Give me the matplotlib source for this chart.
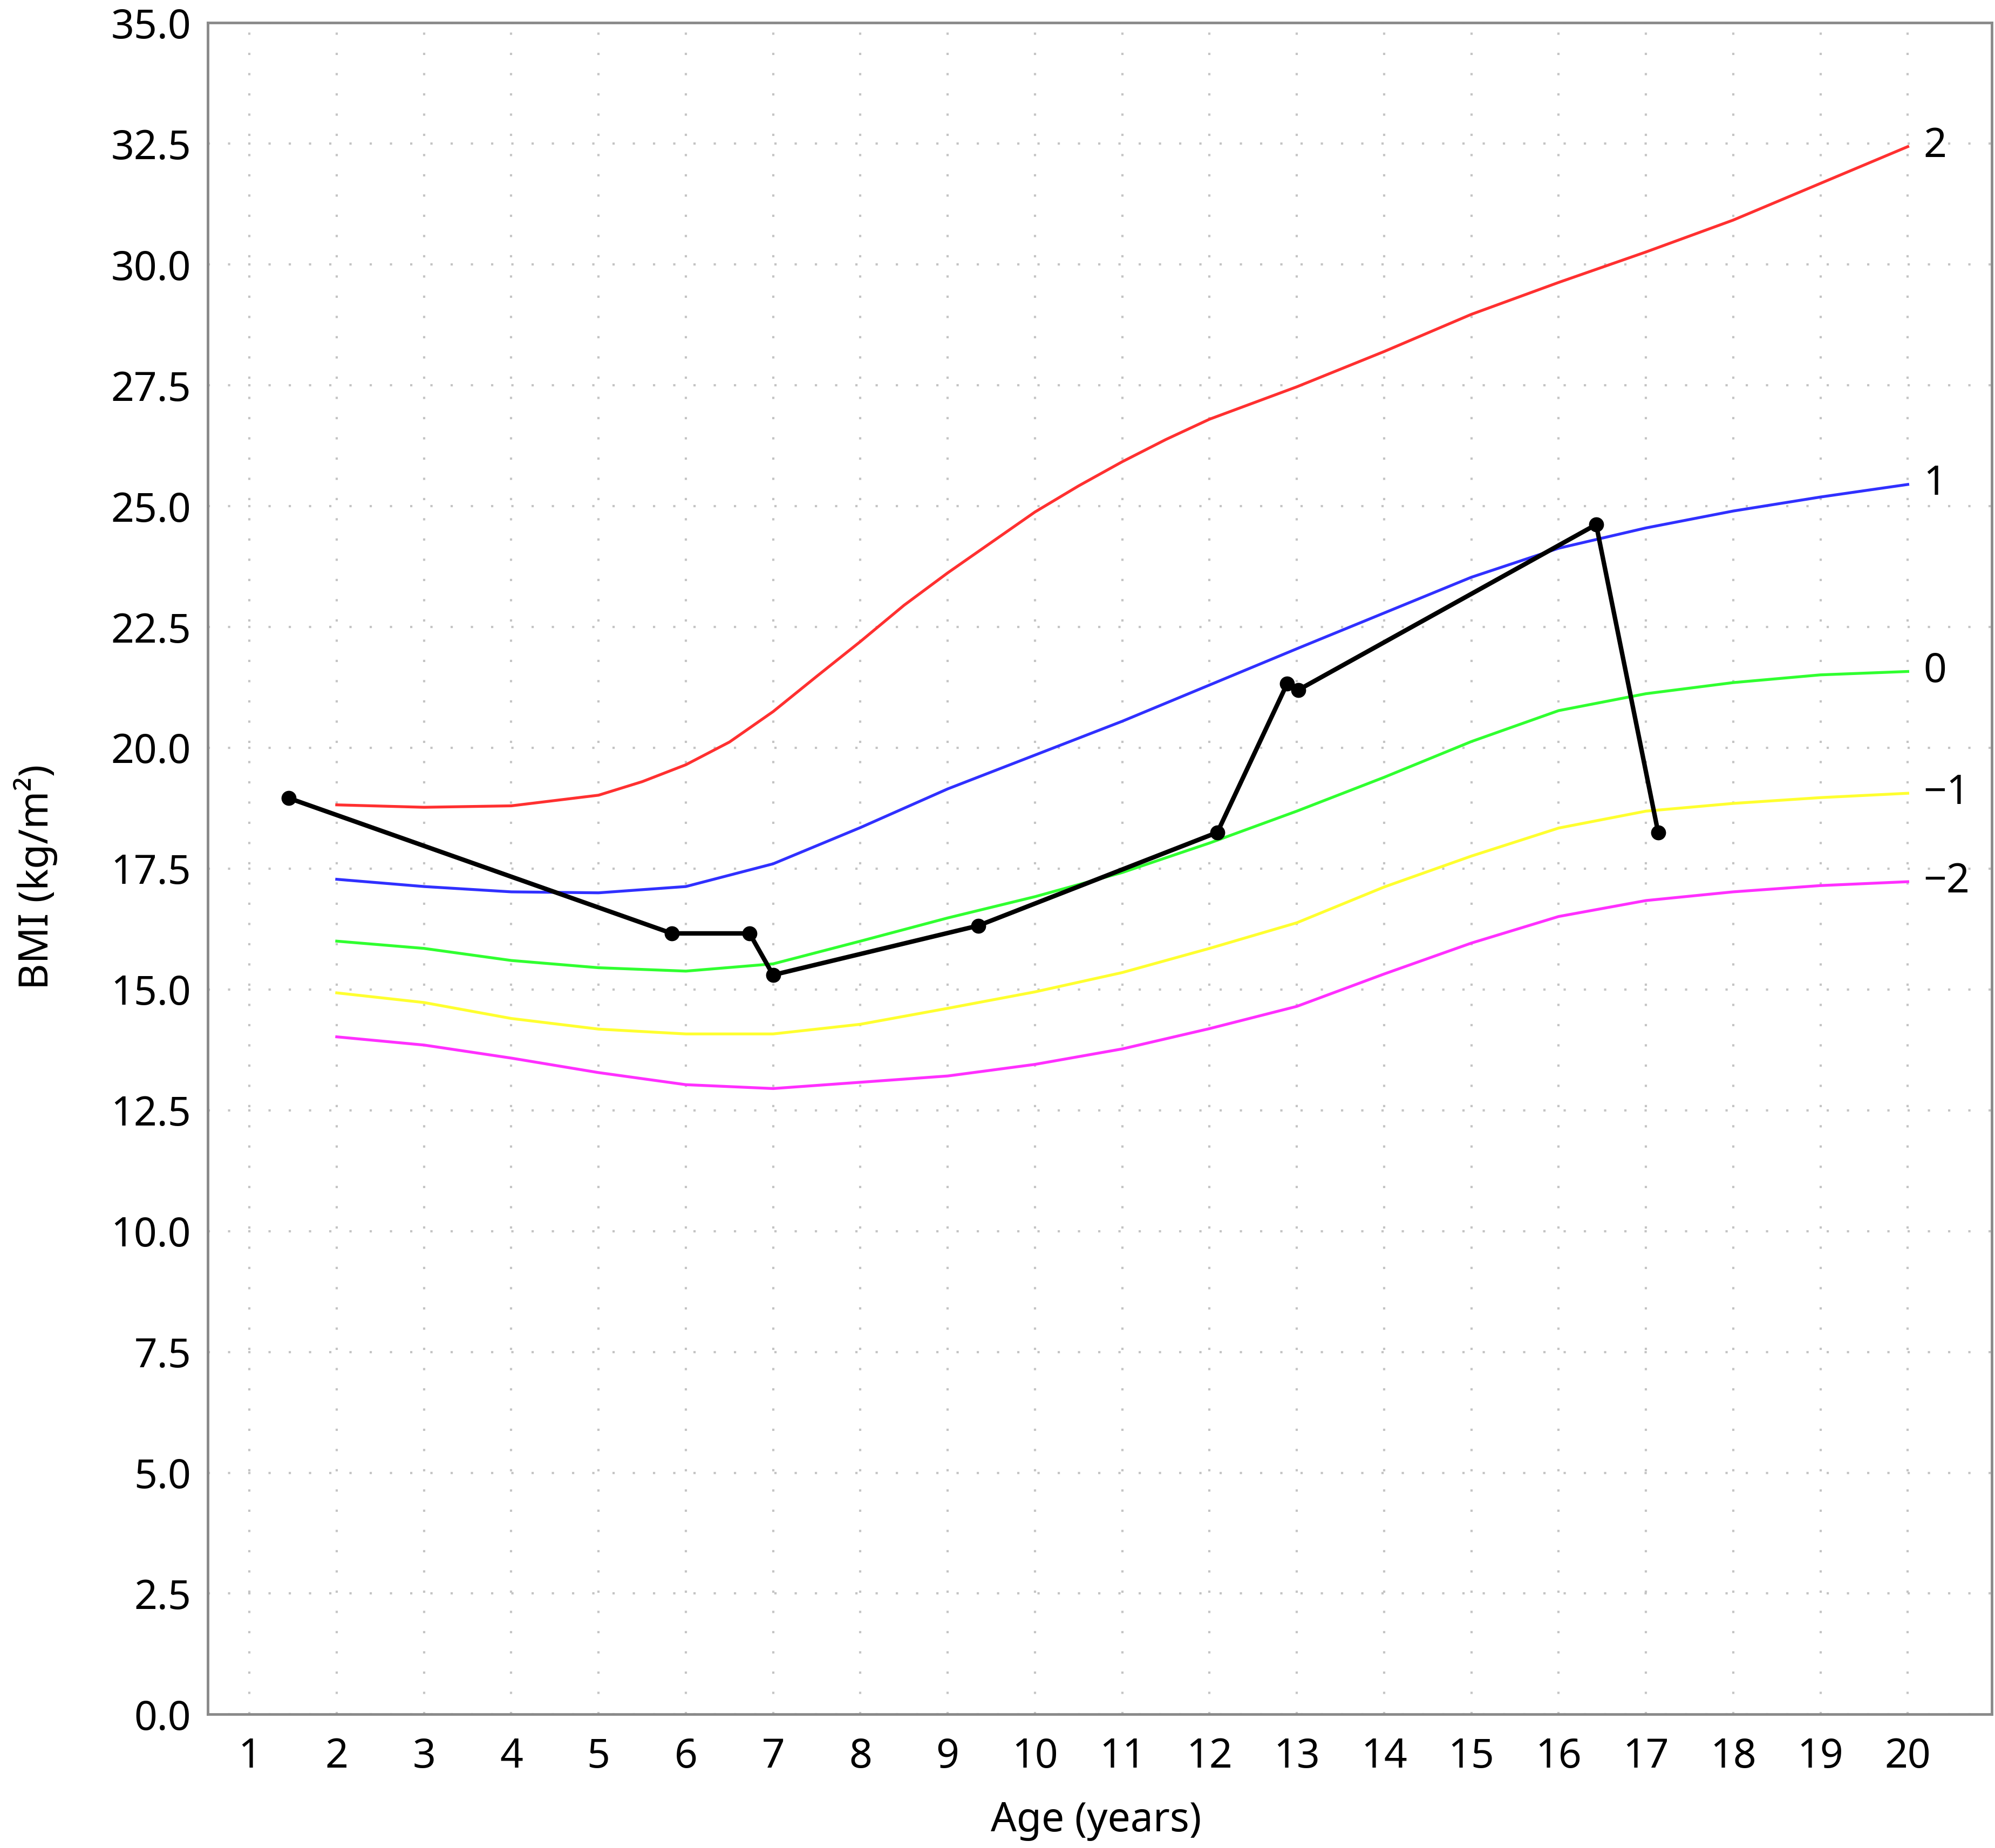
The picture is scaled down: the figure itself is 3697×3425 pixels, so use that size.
import matplotlib
matplotlib.use("Agg")
import matplotlib.pyplot as plt
import numpy as np

plt.rcParams['font.family'] = ['Noto Sans', 'DejaVu Sans']

# reference curves (z-scores), read at whole years 2..20
ages = list(range(2, 21))
# the +2 curve bends strongly, so it was read every half year between 5 and 12
ages_plus2 = [2, 3, 4, 5, 5.5, 6, 6.5, 7, 7.5, 8, 8.5, 9, 9.5, 10, 10.5, 11, 11.5,
              12, 13, 14, 15, 16, 17, 18, 19, 20]
z_plus2 = [18.82, 18.77, 18.80, 19.02, 19.30, 19.65, 20.12, 20.75, 21.48, 22.20,
           22.95, 23.62, 24.25, 24.88, 25.42, 25.92, 26.38, 26.80, 27.47, 28.20,
           28.97, 29.63, 30.26, 30.92, 31.68, 32.44]
z_plus1 = [17.28, 17.13, 17.02, 17.00, 17.13, 17.60, 18.35, 19.15, 19.85, 20.55,
           21.30, 22.05, 22.79, 23.53, 24.13, 24.55, 24.90, 25.19, 25.45]
z_0 = [16.00, 15.85, 15.60, 15.45, 15.38, 15.53, 16.00, 16.48, 16.92, 17.42,
       18.03, 18.69, 19.39, 20.13, 20.77, 21.12, 21.35, 21.51, 21.58]
z_minus1 = [14.93, 14.73, 14.40, 14.18, 14.08, 14.08, 14.28, 14.61, 14.95, 15.35,
            15.85, 16.38, 17.12, 17.76, 18.34, 18.69, 18.85, 18.97, 19.06]
z_minus2 = [14.02, 13.85, 13.58, 13.28, 13.03, 12.95, 13.08, 13.21, 13.45, 13.77,
            14.19, 14.65, 15.32, 15.96, 16.51, 16.84, 17.02, 17.15, 17.23]

curve_labels = ['2', '1', '0', '\u22121', '\u22122']
curve_colors = ['#ff3030', '#3030ff', '#30ff30', '#ffff30', '#ff30ff']

# patient measurements
patient_age = [1.45, 5.84, 6.73, 7.00, 9.35, 12.09, 12.89, 13.02, 16.43, 17.14]
patient_bmi = [18.96, 16.16, 16.16, 15.30, 16.32, 18.25, 21.33, 21.20, 24.62, 18.25]

x_ticks = list(range(1, 21))
y_ticks = np.arange(0, 35.1, 2.5)

fig = plt.figure(figsize=(36.98, 34.25), dpi=100)
ax = fig.add_axes([0.104, 0.0723, 0.894, 0.9153])

curves = [(ages_plus2, z_plus2), (ages, z_plus1), (ages, z_0),
          (ages, z_minus1), (ages, z_minus2)]
for (xs, vals), col, lab in zip(curves, curve_colors, curve_labels):
    ax.plot(xs, vals, color=col, lw=3.8, zorder=2, solid_joinstyle='round')
    ax.text(xs[-1] + 0.18, vals[-1], lab, ha='left', va='center', fontsize=54)

ax.plot(patient_age, patient_bmi, color='black', lw=6, marker='o', ms=19,
        zorder=3, clip_on=False)

ax.set_xlim(0.52, 20.96)
ax.set_ylim(0, 35)
ax.set_xticks(x_ticks)
ax.set_yticks(y_ticks)
ax.set_yticklabels([f'{v:.1f}' for v in y_ticks])
ax.tick_params(axis='both', length=0, labelsize=54)
ax.tick_params(axis='x', pad=30)
ax.tick_params(axis='y', pad=22)

ax.grid(True, color='#c4c4c4', lw=3, linestyle=(0, (1, 8)))
ax.set_axisbelow(True)
for s in ax.spines.values():
    s.set_color('#8a8a8a')
    s.set_linewidth(3.5)

ax.set_xlabel('Age (years)', fontsize=54)
ax.set_ylabel('BMI (kg/m\u00b2)', fontsize=54)
ax.xaxis.set_label_coords(0.498, -0.051)
ax.yaxis.set_label_coords(-0.084, 0.495)

fig.savefig('out.png', dpi=100, facecolor='white')
